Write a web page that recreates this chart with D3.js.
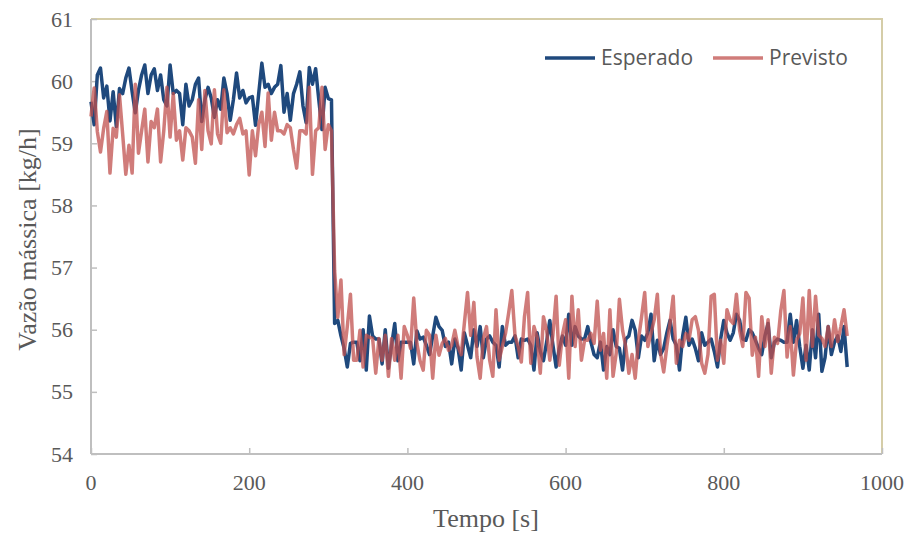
<!DOCTYPE html>
<html>
<head>
<meta charset="utf-8">
<script src="https://cdn.jsdelivr.net/npm/d3@7"></script>
<style>
  html, body { margin: 0; padding: 0; background: #fff; }
  svg { display: block; }
</style>
</head>
<body>
<svg id="chart" width="909" height="535"></svg>
<script>
// Sample times [s], one sample every 4 s
const tempo = d3.range(0, 960, 4);

// Esperado (expected) mass flow [kg/h]
const esperado = [
  59.67, 59.30, 60.10, 60.21, 59.73, 59.92, 59.36, 59.83, 59.27, 59.88,
  59.80, 60.05, 60.21, 59.83, 59.49, 59.85, 60.10, 60.26, 59.80, 60.10,
  60.20, 59.85, 60.10, 59.70, 59.60, 60.26, 59.80, 59.85, 59.80, 59.30,
  59.95, 59.60, 59.70, 59.95, 60.05, 59.35, 59.70, 59.90, 59.73, 59.42,
  59.70, 59.55, 60.05, 59.80, 59.37, 59.70, 60.13, 59.73, 59.85, 59.65,
  59.73, 59.75, 59.29, 59.80, 60.29, 59.90, 59.95, 59.80, 59.90, 59.95,
  60.25, 59.50, 59.80, 59.37, 59.80, 59.95, 60.15, 59.60, 59.33, 60.22,
  59.95, 60.20, 59.70, 59.22, 59.90, 59.72, 59.70, 56.10, 56.15, 55.90,
  55.70, 55.40, 55.78, 55.80, 55.80, 55.50, 56.00, 55.35, 56.22, 55.90,
  55.85, 55.85, 55.45, 56.00, 55.38, 55.75, 56.10, 55.50, 55.80, 55.80,
  55.80, 55.80, 55.45, 55.98, 55.85, 55.88, 55.75, 55.60, 55.90, 56.20,
  56.05, 55.99, 55.73, 55.80, 55.45, 55.85, 55.70, 55.35, 55.95, 55.75,
  55.55, 56.00, 55.73, 56.05, 55.55, 55.85, 55.90, 55.80, 55.75, 55.40,
  56.05, 55.75, 55.80, 55.80, 55.90, 55.55, 55.85, 55.83, 55.85, 55.75,
  55.35, 55.95, 55.65, 55.50, 55.80, 56.15, 55.75, 55.40, 55.70, 55.90,
  55.75, 56.25, 55.75, 56.05, 55.90, 55.85, 55.85, 56.05, 55.80, 55.60,
  55.55, 55.80, 55.35, 55.73, 55.60, 56.00, 55.73, 55.70, 55.35, 55.85,
  55.90, 56.15, 55.99, 55.55, 55.90, 55.83, 55.95, 56.25, 55.50, 55.83,
  55.60, 55.70, 55.95, 56.15, 55.85, 55.75, 55.35, 55.90, 56.20, 55.75,
  55.85, 55.70, 55.50, 55.95, 55.75, 55.80, 55.85, 55.65, 55.40, 55.85,
  56.15, 55.95, 55.83, 55.95, 56.25, 56.15, 55.85, 55.83, 56.00, 55.95,
  55.83, 55.70, 55.60, 55.90, 56.10, 55.55, 55.80, 55.85, 55.83, 55.80,
  55.80, 56.25, 55.80, 56.15, 55.73, 55.38, 55.75, 55.35, 56.00, 55.55,
  56.25, 55.33, 55.55, 56.05, 55.60, 55.80, 55.90, 55.65, 56.05, 55.40
];

// Previsto (predicted) mass flow [kg/h]
const previsto = [
  59.43, 59.89, 59.19, 58.86, 59.24, 59.51, 58.52, 59.24, 59.10, 59.78,
  59.15, 58.50, 58.97, 58.52, 59.95, 58.84, 59.20, 59.55, 58.70, 59.35,
  59.25, 59.55, 58.70, 59.20, 59.90, 59.10, 59.80, 59.05, 59.20, 58.73,
  59.25, 59.20, 59.10, 58.68, 59.70, 58.90, 59.85, 59.20, 58.99, 59.86,
  59.15, 59.00, 59.86, 59.17, 59.25, 59.15, 59.30, 59.40, 59.15, 59.20,
  58.49, 59.20, 58.80, 59.30, 59.50, 58.95, 59.81, 59.05, 59.50, 59.20,
  59.20, 59.15, 59.30, 59.25, 58.90, 58.60, 59.20, 59.20, 59.15, 59.90,
  58.50, 59.20, 59.25, 59.90, 58.90, 59.30, 59.20, 56.95, 56.20, 56.80,
  55.60, 56.05, 56.57, 55.51, 55.51, 55.99, 55.40, 55.91, 55.88, 55.86,
  55.30, 55.86, 55.51, 55.91, 55.25, 55.86, 55.51, 55.91, 55.22, 56.05,
  55.91, 55.70, 56.51, 55.78, 55.50, 55.35, 55.99, 55.91, 55.22, 55.91,
  55.59, 55.78, 55.86, 55.67, 55.75, 55.99, 55.73, 55.60, 56.10, 56.60,
  55.91, 56.44, 55.56, 55.22, 55.86, 56.05, 55.51, 55.25, 56.32, 55.51,
  55.73, 55.94, 56.27, 56.63, 55.91, 55.73, 55.48, 56.21, 56.60, 55.46,
  56.05, 55.88, 55.30, 56.21, 55.99, 55.51, 55.92, 56.54, 55.43, 55.92,
  56.16, 55.22, 56.54, 55.73, 56.32, 55.51, 55.83, 55.83, 55.94, 55.78,
  56.46, 55.67, 55.94, 55.22, 56.32, 55.25, 55.62, 56.49, 55.99, 55.73,
  55.30, 55.60, 55.22, 55.83, 56.20, 56.60, 55.73, 55.94, 56.16, 56.57,
  55.62, 55.32, 55.73, 56.10, 56.54, 55.46, 55.83, 55.73, 55.94, 55.83,
  56.16, 56.21, 55.99, 55.46, 55.30, 55.60, 56.54, 56.57, 55.51, 55.83,
  55.46, 56.32, 56.16, 56.10, 56.57, 55.99, 55.73, 56.60, 56.51, 55.59,
  55.88, 55.25, 56.21, 55.73, 56.16, 55.30, 55.88, 55.78, 56.30, 56.63,
  55.56, 56.05, 55.27, 55.83, 55.94, 56.51, 55.51, 56.63, 55.73, 56.54,
  55.91, 55.86, 55.73, 56.05, 55.73, 56.16, 55.81, 56.05, 56.32, 55.90
];

const xTicks = [0, 200, 400, 600, 800, 1000];
const yTicks = [54, 55, 56, 57, 58, 59, 60, 61];

const seriesNames = ["Esperado", "Previsto"];
const seriesColors = ["#1F497D", "#C0504D"];

(function drawChart() {
  const svg = d3.select("#chart");
  const plotLeft = 91, plotRight = 882, plotTop = 19, plotBottom = 454;

  const x = d3.scaleLinear().domain([0, 1000]).range([plotLeft, plotRight]);
  const y = d3.scaleLinear().domain([54, 61]).range([plotBottom, plotTop]);

  const axisGray = "#BFBFBF";
  const textGray = "#595959";
  const serif = "Liberation Serif, Times New Roman, serif";

  // frame: top and right edges
  svg.append("path")
    .attr("d", `M${plotLeft},${plotTop}H${plotRight}V${plotBottom}`)
    .attr("fill", "none")
    .attr("stroke", "#D5CDA8")
    .attr("stroke-width", 2);

  // y axis with inward ticks
  const yAxis = svg.append("g")
    .attr("transform", `translate(${plotLeft},0)`)
    .call(d3.axisRight(y).tickValues(yTicks).tickSize(6).tickFormat(""));
  yAxis.select(".domain").remove();
  yAxis.selectAll(".tick line").attr("stroke", axisGray).attr("stroke-width", 1.5);
  svg.append("line")
    .attr("x1", plotLeft).attr("x2", plotLeft).attr("y1", plotTop).attr("y2", plotBottom)
    .attr("stroke", axisGray).attr("stroke-width", 2);

  yTicks.forEach(v => {
    svg.append("text")
      .attr("x", plotLeft - 18).attr("y", y(v))
      .attr("text-anchor", "end").attr("dominant-baseline", "central")
      .attr("font-family", serif)
      .attr("font-size", 22).attr("fill", textGray)
      .text(v);
  });

  // x axis with inward ticks
  const xAxis = svg.append("g")
    .attr("transform", `translate(0,${plotBottom})`)
    .call(d3.axisTop(x).tickValues(xTicks).tickSize(6).tickFormat(""));
  xAxis.select(".domain").remove();
  xAxis.selectAll(".tick line").attr("stroke", axisGray).attr("stroke-width", 1.5);
  svg.append("line")
    .attr("x1", plotLeft).attr("x2", plotRight).attr("y1", plotBottom).attr("y2", plotBottom)
    .attr("stroke", axisGray).attr("stroke-width", 2);

  xTicks.forEach(v => {
    svg.append("text")
      .attr("x", x(v)).attr("y", 482)
      .attr("text-anchor", "middle").attr("dominant-baseline", "central")
      .attr("font-family", serif)
      .attr("font-size", 22).attr("fill", textGray)
      .text(v);
  });

  // axis titles
  svg.append("text")
    .attr("x", 486).attr("y", 518)
    .attr("text-anchor", "middle").attr("dominant-baseline", "central")
    .attr("font-family", serif)
    .attr("font-size", 26).attr("fill", textGray)
    .text("Tempo [s]");

  svg.append("text")
    .attr("transform", `translate(27,${(plotTop + plotBottom) / 2 + 3}) rotate(-90)`)
    .attr("text-anchor", "middle").attr("dominant-baseline", "central")
    .attr("font-family", serif)
    .attr("font-size", 26).attr("fill", textGray)
    .text("Vazão mássica [kg/h]");

  // series lines
  const line = d3.line()
    .x((d, i) => x(tempo[i]))
    .y(d => y(d));

  svg.append("path")
    .datum(esperado)
    .attr("d", line)
    .attr("fill", "none")
    .attr("stroke", seriesColors[0])
    .attr("stroke-width", 3.5)
    .attr("stroke-linejoin", "round");

  svg.append("path")
    .datum(previsto)
    .attr("d", line)
    .attr("fill", "none")
    .attr("stroke", seriesColors[1])
    .attr("stroke-opacity", 0.75)
    .attr("stroke-width", 3.5)
    .attr("stroke-linejoin", "round");

  // legend
  const legendItems = [
    { name: seriesNames[0], color: seriesColors[0], opacity: 1, x: 545 },
    { name: seriesNames[1], color: seriesColors[1], opacity: 0.75, x: 713 }
  ];
  legendItems.forEach(it => {
    svg.append("line")
      .attr("x1", it.x).attr("x2", it.x + 50)
      .attr("y1", 58).attr("y2", 58)
      .attr("stroke", it.color).attr("stroke-opacity", it.opacity)
      .attr("stroke-width", 3.5);
    svg.append("text")
      .attr("x", it.x + 56).attr("y", 57)
      .attr("dominant-baseline", "central")
      .attr("font-family", "Open Sans, Noto Sans, sans-serif")
      .attr("font-size", 21).attr("fill", textGray)
      .text(it.name);
  });
})();
</script>
</body>
</html>
